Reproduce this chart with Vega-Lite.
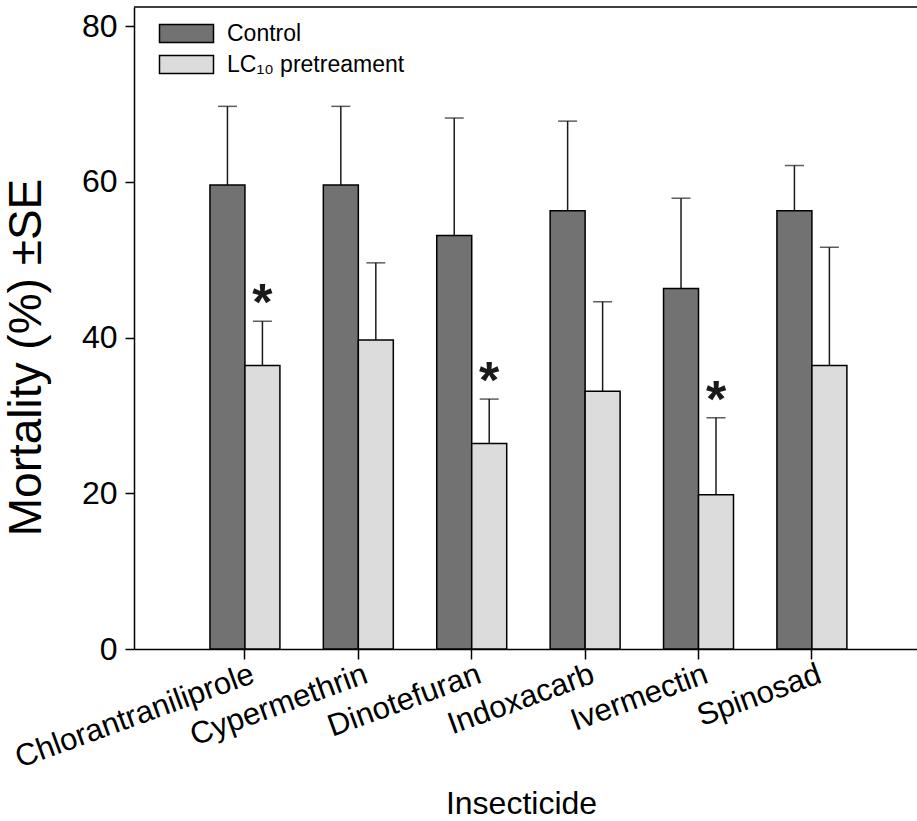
{
  "$schema": "https://vega.github.io/schema/vega-lite/v6.json",
  "width": 783,
  "height": 642,
  "autosize": "none",
  "padding": {"left": 134, "top": 7, "right": 0, "bottom": 172},
  "background": "white",
  "config": {
    "view": {"stroke": null},
    "font": "Liberation Sans",
    "axis": {
      "domainColor": "black",
      "domainWidth": 1.5,
      "tickColor": "black",
      "tickWidth": 1.5,
      "labelColor": "black",
      "titleColor": "black",
      "grid": false,
      "labelLimit": 0,
      "titleFontWeight": "normal"
    }
  },
  "datasets": {
    "mortality": [
      {"insecticide": "Chlorantraniliprole", "group": "Control", "mean": 59.6, "upper": 69.7, "sig": ""},
      {"insecticide": "Chlorantraniliprole", "group": "LC₁₀ pretreament", "mean": 36.4, "upper": 42.1, "sig": "*"},
      {"insecticide": "Cypermethrin", "group": "Control", "mean": 59.6, "upper": 69.7, "sig": ""},
      {"insecticide": "Cypermethrin", "group": "LC₁₀ pretreament", "mean": 39.7, "upper": 49.6, "sig": ""},
      {"insecticide": "Dinotefuran", "group": "Control", "mean": 53.1, "upper": 68.2, "sig": ""},
      {"insecticide": "Dinotefuran", "group": "LC₁₀ pretreament", "mean": 26.4, "upper": 32.1, "sig": "*"},
      {"insecticide": "Indoxacarb", "group": "Control", "mean": 56.3, "upper": 67.8, "sig": ""},
      {"insecticide": "Indoxacarb", "group": "LC₁₀ pretreament", "mean": 33.1, "upper": 44.6, "sig": ""},
      {"insecticide": "Ivermectin", "group": "Control", "mean": 46.3, "upper": 57.9, "sig": ""},
      {"insecticide": "Ivermectin", "group": "LC₁₀ pretreament", "mean": 19.8, "upper": 29.7, "sig": "*"},
      {"insecticide": "Spinosad", "group": "Control", "mean": 56.3, "upper": 62.1, "sig": ""},
      {"insecticide": "Spinosad", "group": "LC₁₀ pretreament", "mean": 36.4, "upper": 51.6, "sig": ""}
    ],
    "frame": [{"top": 82.46}]
  },
  "layer": [
    {
      "data": {"name": "frame"},
      "mark": {"type": "rule", "stroke": "black", "strokeWidth": 1.5},
      "encoding": {
        "y": {"field": "top", "type": "quantitative", "scale": {"domain": [0, 82.46], "nice": false}}
      }
    },
    {
      "data": {"name": "mortality"},
      "mark": {"type": "rule", "stroke": "#1a1a1a", "strokeWidth": 1.5},
      "encoding": {
        "x": {"field": "insecticide", "type": "nominal", "sort": null},
        "xOffset": {"field": "group", "type": "nominal", "sort": ["Control", "LC₁₀ pretreament"]},
        "y": {"field": "mean", "type": "quantitative"},
        "y2": {"field": "upper"}
      }
    },
    {
      "data": {"name": "mortality"},
      "mark": {"type": "tick", "color": "#1a1a1a", "size": 19, "thickness": 1.5},
      "encoding": {
        "x": {"field": "insecticide", "type": "nominal", "sort": null},
        "xOffset": {"field": "group", "type": "nominal", "sort": ["Control", "LC₁₀ pretreament"]},
        "y": {"field": "upper", "type": "quantitative"}
      }
    },
    {
      "data": {"name": "mortality"},
      "mark": {"type": "bar", "stroke": "black", "strokeWidth": 1.5},
      "encoding": {
        "x": {
          "field": "insecticide",
          "type": "nominal",
          "sort": null,
          "scale": {"paddingInner": 0.383, "paddingOuter": 0.644, "align": 0.52},
          "axis": {
            "title": "Insecticide",
            "titleFontSize": 32,
            "titleX": 387,
            "titleY": 164,
            "titleBaseline": "alphabetic",
            "titleAlign": "center",
            "labelFontSize": 31,
            "labelAngle": -20,
            "labelAlign": "right",
            "labelBaseline": "top",
            "labelPadding": 0,
            "labelOffset": 3,
            "tickSize": 10
          }
        },
        "xOffset": {
          "field": "group",
          "type": "nominal",
          "sort": ["Control", "LC₁₀ pretreament"],
          "scale": {"paddingInner": 0, "paddingOuter": 0}
        },
        "y": {
          "field": "mean",
          "type": "quantitative",
          "scale": {"domain": [0, 82.46], "nice": false},
          "axis": {
            "title": "Mortality (%) ±SE",
            "titleFontSize": 46,
            "titleAngle": -90,
            "titleX": -94,
            "titleY": 350,
            "titleAlign": "center",
            "titleBaseline": "alphabetic",
            "values": [0, 20, 40, 60, 80],
            "labelFontSize": 32,
            "labelPadding": 8,
            "tickSize": 9
          }
        },
        "fill": {
          "field": "group",
          "type": "nominal",
          "sort": ["Control", "LC₁₀ pretreament"],
          "scale": {"domain": ["Control", "LC₁₀ pretreament"], "range": ["#727272", "#dcdcdc"]},
          "legend": {
            "title": null,
            "orient": "none",
            "legendX": 41,
            "legendY": 15,
            "padding": 0,
            "symbolType": "M-3,-1H3V1H-3Z",
            "symbolSize": 324,
            "symbolStrokeColor": "black",
            "symbolStrokeWidth": 1.5,
            "symbolOpacity": 1,
            "labelFontSize": 23,
            "labelLimit": 0,
            "labelColor": "black",
            "labelOffset": 29,
            "rowPadding": 6
          }
        }
      }
    },
    {
      "data": {"name": "mortality"},
      "mark": {"type": "text", "fontSize": 52, "fontWeight": "bold", "baseline": "alphabetic", "align": "center", "dy": -1, "color": "#1a1a1a"},
      "encoding": {
        "x": {"field": "insecticide", "type": "nominal", "sort": null},
        "xOffset": {"field": "group", "type": "nominal", "sort": ["Control", "LC₁₀ pretreament"]},
        "y": {"field": "upper", "type": "quantitative"},
        "text": {"field": "sig"}
      }
    }
  ]
}
